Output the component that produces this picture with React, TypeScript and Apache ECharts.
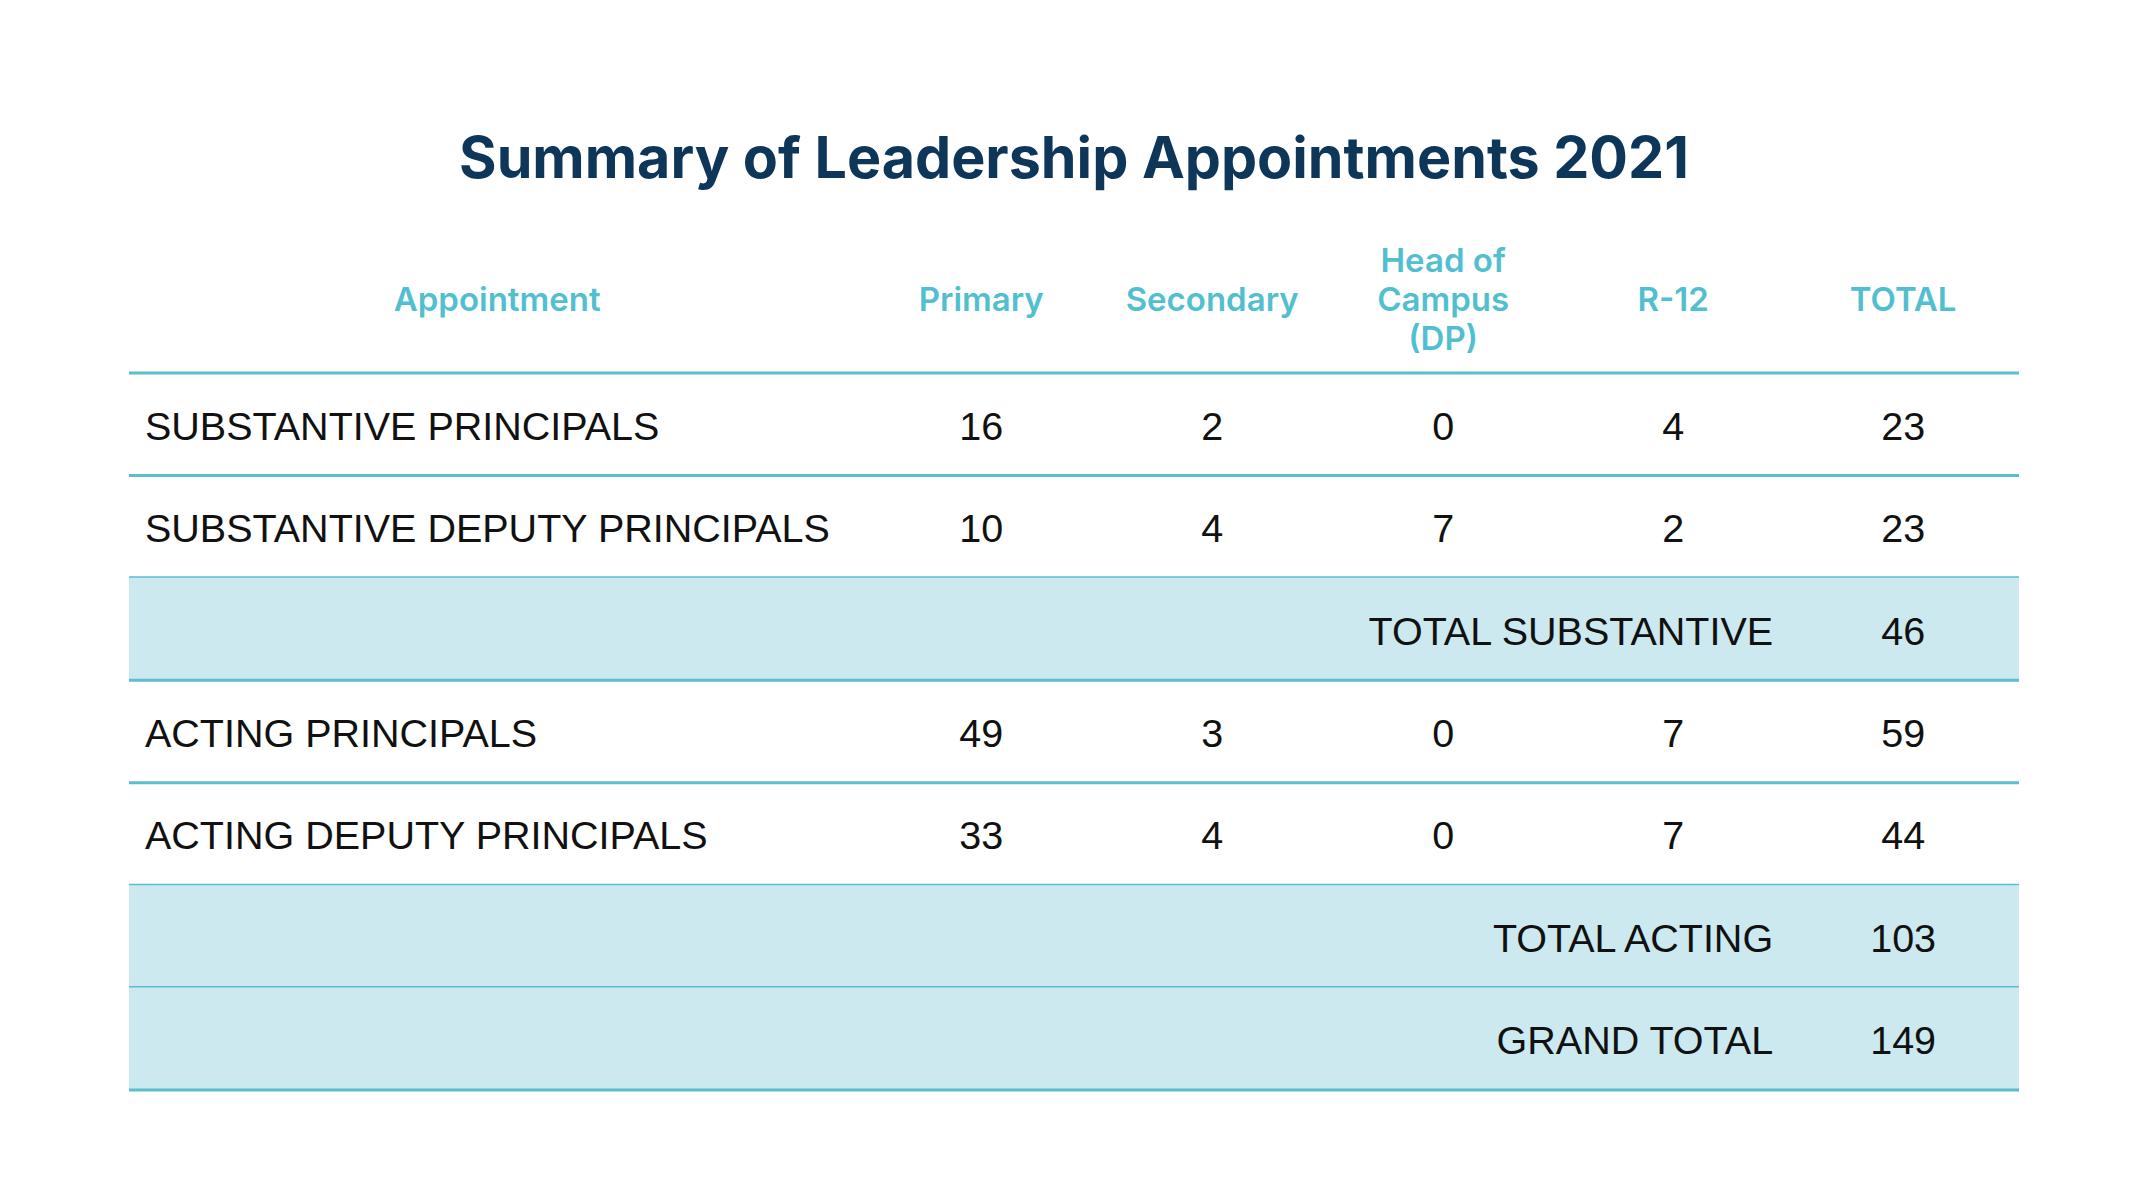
import React, { useEffect, useRef } from "react";
import * as echarts from "echarts";

// ---- data ----
const titleText = "Summary of Leadership Appointments 2021";
const headers = ["Appointment", "Primary", "Secondary", "Head of\nCampus\n(DP)", "R-12", "TOTAL"];
const rowLabels = [
  "SUBSTANTIVE PRINCIPALS",
  "SUBSTANTIVE DEPUTY PRINCIPALS",
  "TOTAL SUBSTANTIVE",
  "ACTING PRINCIPALS",
  "ACTING DEPUTY PRINCIPALS",
  "TOTAL ACTING",
  "GRAND TOTAL",
];
const primary = [16, 10, null, 49, 33, null, null];
const secondary = [2, 4, null, 3, 4, null, null];
const headOfCampus = [0, 7, null, 0, 0, null, null];
const r12 = [4, 2, null, 7, 7, null, null];
const totals = [23, 23, 46, 59, 44, 103, 149];

// ---- layout (fractions of table width) ----
const colCenters = [0.1948, 0.4509, 0.5731, 0.6953, 0.817, 0.9387];
const summaryLabelRight = 0.8699;
const labelPad = 16;
const headerOffset = 74;

const TITLE_COLOR = "#0d3659";
const HEAD_COLOR = "#52bfd0";
const LINE_COLOR = "#5bbece";
const FILL_COLOR = "#cbe9ef";
const BODY_FONT = "'Liberation Sans', Arial, sans-serif";
const HEAD_FONT = "Inter, 'Noto Sans', sans-serif";

export default function App() {
  const ref = useRef<HTMLDivElement>(null);
  useEffect(() => {
    if (!ref.current) return;
    const chart = echarts.init(ref.current, undefined, { renderer: "svg" });
    const valueCols = [primary, secondary, headOfCampus, r12, totals];

    const renderItem = (params: any, api: any) => {
      const i = params.dataIndex;
      const left = api.coord([0, i]);
      const right = api.coord([1, i]);
      const bandH = api.size([0, 1])[1];
      const x0 = left[0];
      const x1 = right[0];
      const yc = left[1];
      const top = yc - bandH / 2;
      const bottom = yc + bandH / 2;
      const w = x1 - x0;
      const xAt = (f: number) => x0 + f * w;
      const children: any[] = [];
      const isSummary = primary[i] === null;
      if (isSummary) {
        children.push({
          type: "rect",
          shape: { x: x0, y: top, width: w, height: bandH },
          style: { fill: FILL_COLOR },
        });
      }
      if (i === 0) {
        children.push({
          type: "line",
          shape: { x1: x0, y1: top, x2: x1, y2: top },
          style: { stroke: LINE_COLOR, lineWidth: 3 },
        });
        headers.forEach((h, c) => {
          children.push({
            type: "text",
            style: {
              text: h,
              x: xAt(colCenters[c]),
              y: top - headerOffset,
              align: "center",
              verticalAlign: "middle",
              fill: HEAD_COLOR,
              fontFamily: HEAD_FONT,
              fontWeight: 600,
              fontSize: 33,
              lineHeight: 39,
            },
          });
        });
      }
      children.push({
        type: "line",
        shape: { x1: x0, y1: bottom, x2: x1, y2: bottom },
        style: { stroke: LINE_COLOR, lineWidth: 3 },
      });
      const ty = yc + 1.5;
      const bodyStyle = {
        verticalAlign: "middle",
        fill: "#111111",
        fontFamily: BODY_FONT,
        fontSize: 39.5,
      };
      if (isSummary) {
        children.push({
          type: "text",
          style: { ...bodyStyle, text: rowLabels[i], x: xAt(summaryLabelRight), y: ty, align: "right" },
        });
      } else {
        children.push({
          type: "text",
          style: { ...bodyStyle, text: rowLabels[i], x: x0 + labelPad, y: ty, align: "left" },
        });
      }
      valueCols.forEach((col, c) => {
        const v = col[i];
        if (v === null || v === undefined) return;
        children.push({
          type: "text",
          style: { ...bodyStyle, text: String(v), x: xAt(colCenters[c + 1]), y: ty, align: "center" },
        });
      });
      return { type: "group", children };
    };

    chart.setOption({
      animation: false,
      backgroundColor: "#ffffff",
      title: {
        text: titleText,
        left: "center",
        top: 123,
        textStyle: {
          color: TITLE_COLOR,
          fontFamily: HEAD_FONT,
          fontWeight: 700,
          fontSize: 57.4,
        },
      },
      grid: { left: 129, right: 129, top: 373, bottom: 110 },
      xAxis: { type: "value", min: 0, max: 1, show: false },
      yAxis: { type: "category", data: rowLabels, inverse: true, show: false },
      series: [
        {
          type: "custom",
          renderItem,
          encode: { x: 0, y: 1 },
          data: rowLabels.map((_, i) => [0, i]),
          clip: false,
        },
      ],
    });
    return () => chart.dispose();
  }, []);
  return (
    <div
      ref={ref}
      style={{ position: "fixed", left: 0, top: 0, width: 2148, height: 1200, background: "#fff" }}
    />
  );
}
